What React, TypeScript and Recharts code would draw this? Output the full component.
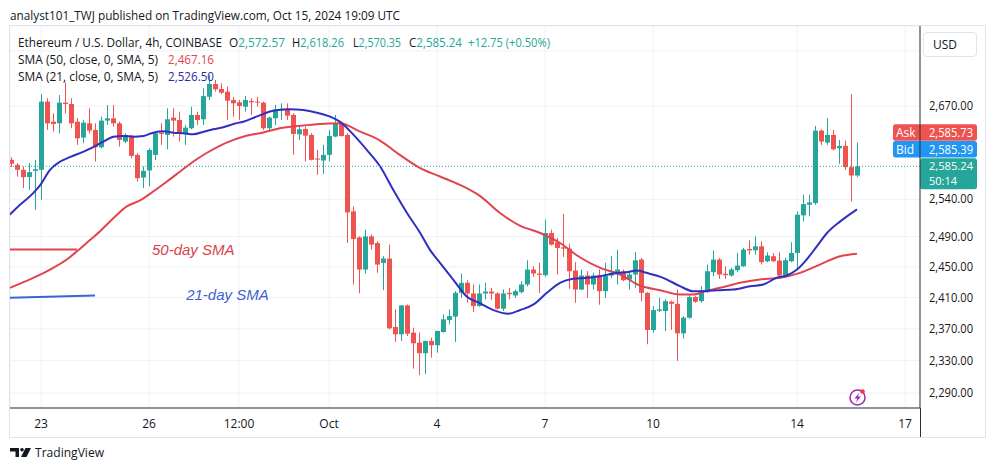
import React from 'react';
import { ComposedChart, Bar, Line, XAxis, YAxis, CartesianGrid, ReferenceLine, ReferenceDot } from 'recharts';

// ---------- DATA ----------
const FIRST_INDEX = -5; // candle index of the first entry (0 = Sep 23 00:00, 4h candles)

const opens = [
  2594.2, 2587.3, 2580.4, 2570.3, 2579.0,
  2580.4, 2676.2, 2647.7, 2645.4, 2674.8, 2672.9, 2647.7, 2625.3, 2645.4, 2636.0,
  2611.7, 2649.2, 2652.5, 2645.4, 2619.7, 2628.0, 2601.1, 2569.8, 2579.5, 2601.1,
  2632.3, 2629.0, 2653.4, 2650.1, 2631.3, 2638.4, 2657.2, 2651.1, 2683.2, 2701.6,
  2694.4, 2690.5, 2678.6, 2675.3, 2669.0, 2677.2, 2676.2, 2674.8, 2638.4, 2652.5,
  2664.3, 2665.2, 2657.2, 2629.9, 2637.4, 2629.0, 2596.0, 2593.3, 2601.1, 2626.7,
  2645.4, 2629.0, 2523.7, 2488.9, 2446.4, 2490.2, 2481.4, 2455.1, 2460.8, 2372.4,
  2363.1, 2399.9, 2365.2, 2352.6, 2339.3, 2354.7, 2349.3, 2366.0, 2381.3, 2385.5,
  2416.1, 2429.1, 2415.3, 2399.1, 2415.3, 2417.8, 2415.3, 2395.7, 2416.1, 2412.7,
  2417.0, 2426.9, 2446.4, 2441.2, 2439.0, 2494.7, 2482.3, 2475.7, 2473.9, 2445.1,
  2420.4, 2438.6, 2426.9, 2438.6, 2418.3, 2438.6, 2439.9, 2444.2, 2433.4, 2439.9,
  2459.5, 2416.1, 2368.6, 2393.1, 2392.7, 2404.6, 2402.0, 2364.3, 2384.2, 2410.6,
  2405.4, 2417.0, 2442.9, 2459.5, 2440.8, 2438.6, 2445.5, 2450.7, 2473.5, 2471.7,
  2477.0, 2457.3, 2463.9, 2458.2, 2437.8, 2457.3, 2468.2, 2518.3, 2532.6, 2534.9,
  2635.1, 2618.3, 2629.0, 2610.3, 2613.6, 2584.1, 2572.57,
];
const highs = [
  2597.9, 2589.6, 2585.0, 2589.6, 2594.2,
  2687.0, 2681.0, 2659.6, 2685.6, 2703.5, 2681.0, 2652.5, 2650.1, 2666.7, 2645.4,
  2654.8, 2671.4, 2671.4, 2647.7, 2631.3, 2629.0, 2603.4, 2585.0, 2610.3, 2633.7,
  2645.4, 2666.7, 2666.7, 2661.9, 2643.1, 2669.0, 2661.9, 2695.3, 2714.7, 2707.4,
  2702.6, 2697.7, 2683.2, 2678.6, 2684.2, 2681.0, 2683.2, 2676.2, 2654.8, 2671.4,
  2673.8, 2673.8, 2659.6, 2640.7, 2640.7, 2631.3, 2608.0, 2615.0, 2636.0, 2657.2,
  2647.7, 2631.3, 2530.4, 2490.2, 2499.1, 2492.5, 2483.6, 2463.9, 2479.2, 2394.8,
  2400.5, 2401.2, 2371.5, 2365.2, 2355.2, 2358.9, 2367.8, 2388.4, 2394.8, 2418.3,
  2441.2, 2432.5, 2426.9, 2426.9, 2429.1, 2422.6, 2417.0, 2420.4, 2422.6, 2420.4,
  2431.2, 2458.6, 2450.7, 2455.1, 2512.5, 2499.1, 2488.0, 2520.5, 2480.5, 2456.0,
  2446.4, 2444.2, 2442.1, 2446.4, 2455.1, 2463.9, 2472.6, 2446.4, 2444.2, 2469.5,
  2461.7, 2417.0, 2399.1, 2409.7, 2407.6, 2406.3, 2420.4, 2386.3, 2414.0, 2411.9,
  2424.7, 2452.9, 2471.3, 2461.7, 2450.7, 2448.6, 2468.2, 2474.8, 2484.9, 2490.2,
  2483.6, 2469.1, 2468.2, 2469.1, 2461.7, 2482.3, 2523.7, 2546.2, 2546.2, 2641.6,
  2636.9, 2652.5, 2636.0, 2622.0, 2621.1, 2687.1, 2618.26,
];
const lows = [
  2584.1, 2571.2, 2555.3, 2553.0, 2525.9,
  2539.4, 2636.0, 2633.7, 2631.3, 2659.6, 2638.4, 2615.0, 2617.3, 2631.3, 2591.9,
  2610.3, 2643.1, 2640.7, 2612.7, 2617.3, 2596.5, 2564.3, 2555.3, 2557.5, 2594.2,
  2615.0, 2608.9, 2626.7, 2619.7, 2615.0, 2636.9, 2643.1, 2643.1, 2678.6, 2690.5,
  2687.2, 2650.1, 2654.8, 2650.1, 2661.9, 2657.2, 2669.0, 2636.0, 2635.1, 2643.1,
  2650.1, 2650.1, 2601.1, 2622.0, 2591.9, 2593.3, 2573.5, 2574.9, 2591.9, 2625.8,
  2626.7, 2481.4, 2426.9, 2415.5, 2441.2, 2472.6, 2442.1, 2419.5, 2369.4, 2353.5,
  2354.7, 2361.0, 2320.2, 2312.0, 2313.2, 2333.9, 2340.1, 2365.2, 2375.8, 2353.5,
  2409.7, 2403.3, 2391.4, 2398.2, 2407.6, 2406.7, 2394.8, 2392.7, 2407.6, 2409.7,
  2415.3, 2424.7, 2436.9, 2416.1, 2436.9, 2477.9, 2439.9, 2463.0, 2421.3, 2403.3,
  2419.5, 2409.7, 2420.4, 2400.8, 2409.7, 2435.6, 2426.9, 2431.2, 2420.4, 2422.6,
  2405.4, 2350.6, 2365.2, 2391.4, 2367.3, 2368.6, 2329.7, 2357.6, 2382.9, 2403.3,
  2403.3, 2416.1, 2437.8, 2434.3, 2434.3, 2436.9, 2442.9, 2449.9, 2466.1, 2466.1,
  2452.9, 2456.0, 2456.0, 2435.6, 2435.6, 2456.0, 2448.6, 2510.3, 2517.0, 2532.6,
  2615.0, 2615.0, 2607.1, 2588.7, 2580.4, 2537.2, 2570.35,
];
const closes = [
  2588.7, 2580.4, 2570.3, 2577.2, 2581.3,
  2676.2, 2645.4, 2644.4, 2674.8, 2672.9, 2645.4, 2624.3, 2646.3, 2635.1, 2611.7,
  2649.2, 2652.5, 2645.4, 2622.0, 2629.0, 2599.7, 2568.9, 2579.0, 2608.0, 2631.3,
  2630.4, 2651.1, 2649.2, 2631.3, 2639.3, 2657.2, 2650.1, 2684.2, 2701.6, 2693.9,
  2689.1, 2677.6, 2673.8, 2670.0, 2678.6, 2675.3, 2675.7, 2638.4, 2653.4, 2665.2,
  2664.8, 2656.2, 2630.4, 2636.9, 2628.0, 2594.2, 2595.1, 2601.1, 2627.5, 2645.4,
  2627.5, 2522.3, 2486.7, 2446.4, 2490.2, 2479.2, 2452.9, 2460.8, 2370.7, 2363.1,
  2399.9, 2363.9, 2351.8, 2339.3, 2354.7, 2349.3, 2367.3, 2382.1, 2386.3, 2416.1,
  2429.1, 2415.3, 2399.1, 2415.3, 2417.8, 2415.3, 2395.7, 2415.3, 2414.4, 2418.3,
  2426.9, 2446.4, 2441.2, 2439.5, 2494.7, 2479.2, 2474.8, 2473.9, 2444.2, 2420.4,
  2438.6, 2426.9, 2438.6, 2418.3, 2438.6, 2442.1, 2446.4, 2432.5, 2439.9, 2458.6,
  2416.1, 2368.6, 2393.9, 2394.8, 2405.4, 2402.0, 2364.3, 2384.2, 2410.6, 2404.6,
  2418.3, 2444.2, 2459.5, 2439.9, 2439.0, 2446.4, 2451.6, 2472.6, 2471.7, 2477.0,
  2456.0, 2464.8, 2457.3, 2438.6, 2458.6, 2468.2, 2519.2, 2533.5, 2535.8, 2635.1,
  2619.7, 2629.0, 2608.9, 2613.6, 2584.1, 2572.6, 2585.24,
];

// SMA lines (candle index, price)
const sma21Index = [-5.2, -3.5, -1.3, -0.1, 1.5, 3.2, 4.8, 7.1, 8.7, 10.4, 12.1, 13.7, 15.4, 17.1, 18.7, 20.4, 22.1, 23.7, 25.4, 27.1, 28.7, 30.4, 32.1, 33.7, 35.9, 38.7, 41.5, 43.7, 46.0, 48.2, 49.8, 52.1, 54.3, 56.5, 58.7, 61.0, 63.2, 64.8, 66.5, 68.7, 70.9, 73.2, 75.4, 77.9, 79.8, 82.1, 84.3, 86.5, 88.7, 90.9, 93.2, 95.4, 97.6, 99.3, 100.9, 103.7, 106.5, 108.7, 110.9, 112.6, 115.4, 118.2, 120.4, 122.6, 124.3, 126.0, 127.6, 129.3, 131.0, 133.2, 136];
const sma21Values = [2519.2, 2532.6, 2548.5, 2559.8, 2580.4, 2591.9, 2597.9, 2605.6, 2611.8, 2619.6, 2626.6, 2627.6, 2626.6, 2627.6, 2632.2, 2634.2, 2632.2, 2631.3, 2629.9, 2633.6, 2637.0, 2639.8, 2644.5, 2647.7, 2654.8, 2663.3, 2665.3, 2664.3, 2660.5, 2654.8, 2647.7, 2629.0, 2608.0, 2585.3, 2553.0, 2521.5, 2494.7, 2472.6, 2455.2, 2433.4, 2411.8, 2402.5, 2393.8, 2389.2, 2393.8, 2401.2, 2416.1, 2429.1, 2434.3, 2435.6, 2437.7, 2441.2, 2442.9, 2445.1, 2442.1, 2435.6, 2424.7, 2418.2, 2418.5, 2419.5, 2420.4, 2424.7, 2426.9, 2435.6, 2438.6, 2446.4, 2459.5, 2476.9, 2494.7, 2510.2, 2526.5];
const sma50Index = [-5.2, -1.3, 1.5, 4.3, 6.0, 7.6, 9.8, 12.1, 14.3, 16.5, 18.7, 21.0, 23.2, 25.4, 27.6, 29.8, 32.1, 34.8, 36.5, 39.8, 43.2, 46.5, 49.8, 53.2, 56.5, 59.8, 63.2, 66.5, 69.8, 73.2, 76.5, 79.8, 83.2, 86.5, 89.8, 93.2, 96.5, 99.8, 103.2, 106.5, 108.7, 110.9, 113.2, 116.5, 119.8, 123.2, 126.5, 129.8, 133.2, 136];
const sma50Values = [2422.6, 2435.6, 2446.4, 2459.5, 2470.4, 2481.4, 2496.8, 2514.8, 2530.4, 2538.5, 2550.7, 2564.4, 2578.1, 2591.9, 2603.7, 2613.8, 2622.0, 2629.0, 2631.3, 2638.4, 2641.9, 2644.5, 2645.4, 2633.6, 2621.1, 2601.1, 2582.7, 2571.2, 2559.8, 2544.3, 2521.5, 2504.5, 2494.7, 2481.4, 2462.5, 2448.6, 2439.9, 2425.6, 2419.5, 2414.0, 2414.0, 2418.5, 2422.6, 2429.1, 2433.4, 2435.6, 2442.1, 2452.9, 2463.8, 2467.16];

const xTickIndex = [0, 18, 33, 48, 66, 84, 102, 126, 144];
const xTickLabels = ['23', '26', '12:00', 'Oct', '4', '7', '10', '14', '17'];
const yTicks = [2290, 2330, 2370, 2410, 2450, 2490, 2540, 2670, 2750];
const hiddenYTick = 2750;

const lastPrice = 2585.24;
const askPrice = 2585.73;
const bidPrice = 2585.39;
const countdown = '50:14';
const ohlcValues = ['2,572.57', '2,618.26', '2,570.35', '2,585.24'];
const changeText = '+12.75 (+0.50%)';
const sma50Last = '2,467.16';
const sma21Last = '2,526.50';

// annotation drawings (candle index, price)
const note50Line = [{ x: -5.17, y: 2472.6 }, { x: 6, y: 2472.6 }];
const note21Line = [{ x: -5.17, y: 2409.8 }, { x: 9, y: 2412.7 }];
const note50Text = { x: 18.5, y: 2472.6, text: '50-day SMA' };
const note21Text = { x: 24.2, y: 2412.7, text: '21-day SMA' };

// ---------- STYLE ----------
const X_DOMAIN = [-5.1667, 146.5];
const Y_DOMAIN = [2271.8, 2786.7];
const GREEN = '#26a69a';
const RED = '#ef5350';
const SMA50_COLOR = '#e2444f';
const SMA21_COLOR = '#2f2fc2';
const NOTE_BLUE = '#3d62d3';
const NOTE_RED = '#d9434c';
const GRID = '#eef1f6';
const AXIS = '#2a2e39';
const TEXT = '#131722';
const FONT = "'Open Sans', 'Noto Sans', sans-serif";

const fmt = (v: number) => v.toLocaleString('en-US', { minimumFractionDigits: 2, maximumFractionDigits: 2 });

const candles = opens.map((o, k) => ({
  i: FIRST_INDEX + k,
  o,
  h: highs[k],
  l: lows[k],
  c: closes[k],
  range: [lows[k], highs[k]],
}));
const sma21Data = sma21Index.map((i, k) => ({ i, v: sma21Values[k] }));
const sma50Data = sma50Index.map((i, k) => ({ i, v: sma50Values[k] }));

const Candle = (p: any) => {
  const { x, y, width, height, payload } = p;
  if (!payload || payload.o == null || !isFinite(y) || !isFinite(height)) return <g />;
  const top = Math.min(y, y + height);
  const bot = Math.max(y, y + height);
  const { o, h, l, c } = payload;
  const span = Math.log(h) - Math.log(l);
  const pos = (v: number) => (span > 0 ? top + ((bot - top) * (Math.log(h) - Math.log(v))) / span : top);
  const color = c >= o ? GREEN : RED;
  const cx = Math.round(x + (width || 0) / 2);
  const y1 = pos(Math.max(o, c));
  const y2 = pos(Math.min(o, c));
  return (
    <g>
      <line x1={cx + 0.5} x2={cx + 0.5} y1={top} y2={bot} stroke={color} strokeWidth={1} />
      <rect x={cx - 2} y={y1} width={5} height={Math.max(1, y2 - y1)} fill={color} />
    </g>
  );
};

const YTick = (p: any) => {
  const v = p.payload ? p.payload.value : null;
  if (v == null || v === hiddenYTick) return <g />;
  return (
    <text x={p.x + 1} y={p.y + 4} fontSize={12} fill={TEXT} fontFamily={FONT} textLength={44} lengthAdjust="spacingAndGlyphs">
      {fmt(v)}
    </text>
  );
};

const XTick = (p: any) => {
  const v = p.payload ? p.payload.value : null;
  const k = xTickIndex.indexOf(v);
  if (k < 0) return <g />;
  return (
    <text x={p.x} y={p.y + 12} fontSize={12} fill={TEXT} fontFamily={FONT} textAnchor="middle">
      {xTickLabels[k]}
    </text>
  );
};

const PriceTags = (p: any) => {
  const vb = p.viewBox || {};
  const right = (vb.x ?? 0) + (vb.width ?? 0);
  const y = vb.y ?? 0;
  return (
    <g fontFamily={FONT} fontSize={12}>
      <rect x={right - 27} y={y - 42} width={84} height={16.5} rx={2.5} fill={RED} />
      <text x={right - 24} y={y - 29.5} fill="#fff">Ask</text>
      <text x={right + 9} y={y - 29.5} fill="#fff" textLength={44} lengthAdjust="spacingAndGlyphs">{fmt(askPrice)}</text>
      <rect x={right - 27} y={y - 25.3} width={84} height={16.5} rx={2.5} fill="#2196f3" />
      <text x={right - 24} y={y - 12.8} fill="#fff">Bid</text>
      <text x={right + 9} y={y - 12.8} fill="#fff" textLength={44} lengthAdjust="spacingAndGlyphs">{fmt(bidPrice)}</text>
      <rect x={right} y={y - 8} width={57} height={31} rx={2.5} fill={GREEN} />
      <text x={right + 9} y={y + 3.5} fill="#fff" fontSize={11} textLength={44} lengthAdjust="spacingAndGlyphs">{fmt(lastPrice)}</text>
      <text x={right + 9} y={y + 18.5} fill="#fff" fontSize={11}>{countdown}</text>
    </g>
  );
};

const noteLabel = (text: string, color: string) => (p: any) => {
  const vb = p.viewBox || {};
  const x = (vb.x ?? 0) + (vb.width ?? 0) / 2;
  const y = (vb.y ?? 0) + (vb.height ?? 0) / 2;
  return (
    <text x={x} y={y} dy={5} fill={color} fontSize={15} fontStyle="italic" fontFamily="'Liberation Sans', Arial, sans-serif">
      {text}
    </text>
  );
};

export default function App() {
  return (
    <div style={{ position: 'absolute', left: 0, top: 0, width: 991, height: 472, background: '#fff', overflow: 'hidden', fontFamily: FONT }}>
      <div style={{ position: 'absolute', left: 9, top: 25, width: 977, height: 413, border: '1px solid #e0e3eb', boxSizing: 'border-box' }} />
      <div style={{ position: 'absolute', left: 10, top: 26 }}>
        <ComposedChart width={975} height={412} data={candles} margin={{ top: 0, right: 0, bottom: 0, left: 0 }}>
          <CartesianGrid stroke={GRID} strokeWidth={1} />
          <XAxis
            dataKey="i"
            type="number"
            domain={X_DOMAIN}
            allowDataOverflow
            ticks={xTickIndex}
            interval={0}
            height={30}
            axisLine={{ stroke: AXIS }}
            tickLine={false}
            tick={XTick}
          />
          <YAxis
            orientation="right"
            type="number"
            scale="log"
            domain={Y_DOMAIN}
            allowDataOverflow
            ticks={yTicks}
            interval={0}
            width={65}
            axisLine={{ stroke: AXIS }}
            tickLine={false}
            tick={YTick}
          />
          <ReferenceLine segment={note50Line} stroke={SMA50_COLOR} strokeWidth={2} ifOverflow="hidden" />
          <ReferenceLine segment={note21Line} stroke={NOTE_BLUE} strokeWidth={2} ifOverflow="hidden" />
          <Bar dataKey="range" barSize={5} shape={Candle} isAnimationActive={false} />
          <Line data={sma50Data} dataKey="v" type="monotone" stroke={SMA50_COLOR} strokeWidth={2} dot={false} isAnimationActive={false} />
          <Line data={sma21Data} dataKey="v" type="monotone" stroke={SMA21_COLOR} strokeWidth={2} dot={false} isAnimationActive={false} />
          <ReferenceLine y={lastPrice} stroke={GREEN} strokeDasharray="1 2" strokeWidth={1} label={PriceTags} />
          <ReferenceDot x={note50Text.x} y={note50Text.y} r={1} fill="none" stroke="none" label={noteLabel(note50Text.text, NOTE_RED)} />
          <ReferenceDot x={note21Text.x} y={note21Text.y} r={1} fill="none" stroke="none" label={noteLabel(note21Text.text, NOTE_BLUE)} />
        </ComposedChart>
      </div>
      <div style={{ position: 'absolute', left: 920, top: 408, width: 1, height: 29, background: AXIS }} />
      <div
        style={{
          position: 'absolute', left: 923, top: 32, width: 54, height: 25, boxSizing: 'border-box',
          border: '1px solid #e0e3eb', borderRadius: 4, background: '#fff', fontSize: 12, color: TEXT,
          lineHeight: '23px', paddingLeft: 9,
        }}
      >
        USD
      </div>
      <svg width={991} height={472} style={{ position: 'absolute', left: 0, top: 0, pointerEvents: 'none' }} fontFamily={FONT}>
        <text x={10} y={19.5} fontSize={13} fill={TEXT} textLength={390} lengthAdjust="spacingAndGlyphs">
          analyst101_TWJ published on TradingView.com, Oct 15, 2024 19:09 UTC
        </text>
        <g fontSize={12}>
          <text x={18} y={46.5} fill={TEXT} textLength={204} lengthAdjust="spacingAndGlyphs">Ethereum / U.S. Dollar, 4h, COINBASE</text>
          {['O', 'H', 'L', 'C'].map((lab, k) => {
            const xs = [229, 292, 353, 409];
            const ls = [56, 52, 48, 53];
            return (
              <text key={lab} x={xs[k]} y={46.5} textLength={ls[k]} lengthAdjust="spacingAndGlyphs">
                <tspan fill={TEXT}>{lab}</tspan>
                <tspan fill={GREEN}>{ohlcValues[k]}</tspan>
              </text>
            );
          })}
          <text x={468} y={46.5} fill={GREEN} textLength={82} lengthAdjust="spacingAndGlyphs">{changeText}</text>
          <text x={18} y={63.5} fill={TEXT} textLength={140} lengthAdjust="spacingAndGlyphs">SMA (50, close, 0, SMA, 5)</text>
          <text x={168} y={63.5} fill={SMA50_COLOR} textLength={46} lengthAdjust="spacingAndGlyphs">{sma50Last}</text>
          <text x={18} y={80.5} fill={TEXT} textLength={140} lengthAdjust="spacingAndGlyphs">SMA (21, close, 0, SMA, 5)</text>
          <text x={168} y={80.5} fill="#2a2aa8" textLength={46} lengthAdjust="spacingAndGlyphs">{sma21Last}</text>
        </g>
        {/* lightning icon */}
        <circle cx={857.5} cy={397.5} r={7.5} fill="#fff" stroke="#9c27b0" strokeWidth={1.5} />
        <path d="M859.5 392.5 L854.5 398.5 H857.5 L855.8 402.8 L860.8 396.5 H857.8 Z" fill="#9c27b0" />
        <circle cx={862.5} cy={391.5} r={2.3} fill="#f23645" />
        {/* TradingView logo */}
        <path d="M10 448 H19 V457 H15.5 V451.5 H10 Z" fill={TEXT} />
        <circle cx={22} cy={449.8} r={1.8} fill={TEXT} />
        <path d="M25.5 448 H31 L26.5 457 H21 Z" fill={TEXT} />
        <text x={35} y={456.5} fontSize={12.5} fill={TEXT} textLength={69} lengthAdjust="spacingAndGlyphs">TradingView</text>
      </svg>
    </div>
  );
}
